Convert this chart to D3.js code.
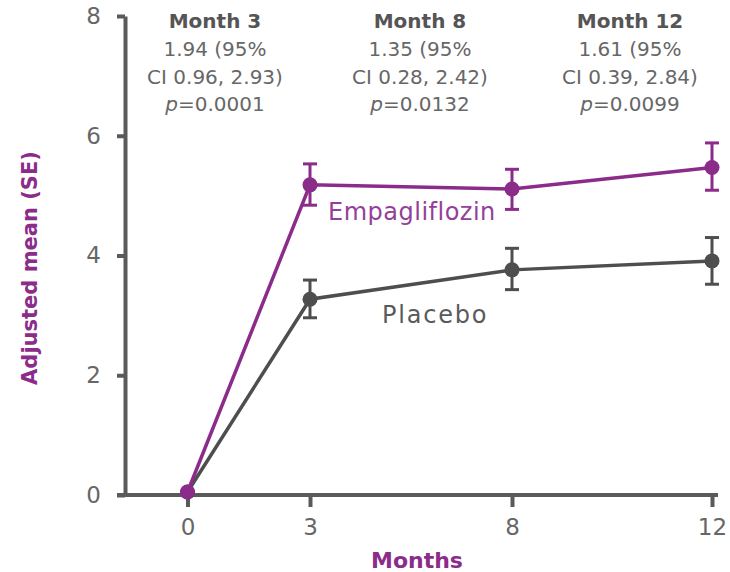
<!DOCTYPE html>
<html>
<head>
<meta charset="utf-8">
<script src="https://cdn.jsdelivr.net/npm/d3@7"></script>
<style>
  html, body { margin: 0; padding: 0; background: #fff; }
  svg { display: block; font-family: "DejaVu Sans", sans-serif; }
</style>
</head>
<body>
<svg id="chart" width="730" height="572"></svg>
<script>
// ---- data ----
const months = [0, 3, 8, 12];
const yTicks = [0, 2, 4, 6, 8];
const seriesNames = ["Placebo", "Empagliflozin"];
const placeboMean = [0.05, 3.27, 3.76, 3.91];
const placeboLow  = [null, 2.96, 3.43, 3.52];
const placeboHigh = [null, 3.59, 4.12, 4.30];
const empaMean = [0.05, 5.18, 5.11, 5.47];
const empaLow  = [null, 4.84, 4.77, 5.09];
const empaHigh = [null, 5.53, 5.44, 5.88];
const annotMonths = [3, 8, 12];
const annotTitles = ["Month 3", "Month 8", "Month 12"];
const annotLine1 = ["1.94 (95%", "1.35 (95%", "1.61 (95%"];
const annotLine2 = ["CI 0.96, 2.93)", "CI 0.28, 2.42)", "CI 0.39, 2.84)"];
const annotP = ["=0.0001", "=0.0132", "=0.0099"];
const yTitle = "Adjusted mean (SE)";
const xTitle = "Months";

// ---- layout ----
const purple = "#8B2B8A";
const grey = "#4E4E4E";
const axisColor = "#5A5A5A";
const textGrey = "#676767";
const svg = d3.select("#chart");

const x = d3.scaleLinear().domain(months).range([187.5, 310, 512, 712]);
const y = d3.scaleLinear().domain([0, 8]).range([495, 16]);
const annotOffset = [-95, -92, -82];

// y axis
const yAxis = svg.append("g").attr("transform", "translate(125,0)")
  .call(d3.axisLeft(y).tickValues(yTicks).tickSize(8).tickPadding(16).tickSizeOuter(0));
yAxis.select(".domain").attr("stroke", axisColor).attr("stroke-width", 4);
yAxis.selectAll(".tick line").attr("stroke", axisColor).attr("stroke-width", 4);
yAxis.selectAll(".tick text").attr("fill", textGrey).style("font-size", "23px")
  .style("font-family", "'DejaVu Sans', sans-serif");

// x axis
const xAxis = svg.append("g").attr("transform", "translate(0,495)")
  .call(d3.axisBottom(x).tickValues(months).tickFormat(d3.format("d")).tickSize(12).tickPadding(12).tickSizeOuter(0));
xAxis.select(".domain").remove();
xAxis.selectAll(".tick line").attr("stroke", axisColor).attr("stroke-width", 4);
xAxis.selectAll(".tick text").attr("fill", textGrey).style("font-size", "23px")
  .style("font-family", "'DejaVu Sans', sans-serif");
svg.append("line").attr("x1", 117).attr("x2", 718).attr("y1", 495).attr("y2", 495)
  .attr("stroke", axisColor).attr("stroke-width", 4);

// axis titles
svg.append("text").attr("transform", "translate(37,268) rotate(-90)")
  .attr("text-anchor", "middle").attr("fill", purple)
  .style("font-size", "21px").style("font-weight", "bold").text(yTitle);
svg.append("text").attr("x", 417).attr("y", 568).attr("text-anchor", "middle")
  .attr("fill", purple).style("font-size", "22px").style("font-weight", "bold").text(xTitle);

// series
function drawSeries(mean, low, high, color) {
  const pts = months.map((m, i) => ({ m, v: mean[i], lo: low[i], hi: high[i] }));
  const g = svg.append("g");
  g.append("path").datum(pts)
    .attr("d", d3.line().x(d => x(d.m)).y(d => y(d.v)))
    .attr("fill", "none").attr("stroke", color).attr("stroke-width", 3.5);
  const eb = g.selectAll(".eb").data(pts.filter(d => d.lo != null)).enter().append("g");
  eb.append("line").attr("x1", d => x(d.m)).attr("x2", d => x(d.m))
    .attr("y1", d => y(d.lo)).attr("y2", d => y(d.hi))
    .attr("stroke", color).attr("stroke-width", 3);
  [ "lo", "hi" ].forEach(k => {
    eb.append("line").attr("x1", d => x(d.m) - 7).attr("x2", d => x(d.m) + 7)
      .attr("y1", d => y(d[k])).attr("y2", d => y(d[k]))
      .attr("stroke", color).attr("stroke-width", 3);
  });
  g.selectAll("circle").data(pts).enter().append("circle")
    .attr("cx", d => x(d.m)).attr("cy", d => y(d.v)).attr("r", 7.5).attr("fill", color);
}
drawSeries(placeboMean, placeboLow, placeboHigh, grey);
drawSeries(empaMean, empaLow, empaHigh, purple);

// series labels
svg.append("text").attr("x", 328).attr("y", 220).attr("fill", "#94409A")
  .style("font-size", "24px").style("letter-spacing", "0.5px").text(seriesNames[1]);
svg.append("text").attr("x", 382).attr("y", 323).attr("fill", "#5A5A5A")
  .style("font-size", "24px").style("letter-spacing", "1.8px").text(seriesNames[0]);

// annotations
annotMonths.forEach((m, i) => {
  const cx = x(m) + annotOffset[i];
  const g = svg.append("g").attr("text-anchor", "middle");
  g.append("text").attr("x", cx).attr("y", 28).attr("fill", "#555")
    .style("font-size", "20px").style("font-weight", "bold").text(annotTitles[i]);
  g.append("text").attr("x", cx).attr("y", 56).attr("fill", textGrey)
    .style("font-size", "20px").text(annotLine1[i]);
  g.append("text").attr("x", cx).attr("y", 84).attr("fill", textGrey)
    .style("font-size", "20px").text(annotLine2[i]);
  const t = g.append("text").attr("x", cx).attr("y", 111).attr("fill", textGrey)
    .style("font-size", "20px");
  t.append("tspan").style("font-style", "italic").text("p");
  t.append("tspan").text(annotP[i]);
});
</script>
</body>
</html>
